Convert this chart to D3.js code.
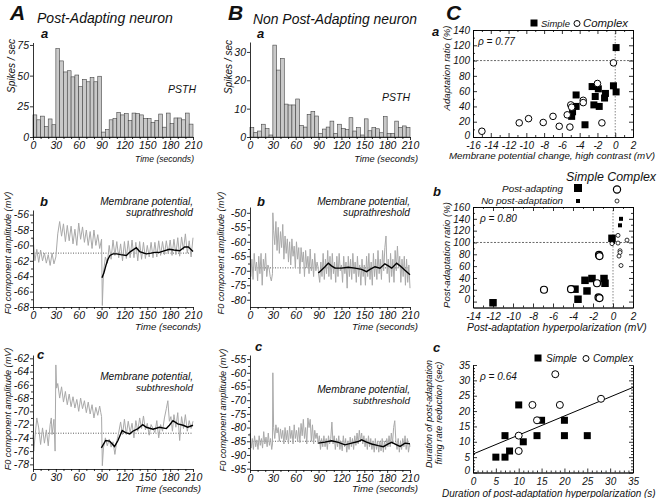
<!DOCTYPE html>
<html><head><meta charset="utf-8">
<script src="https://cdn.jsdelivr.net/npm/d3@7"></script>
<style>
body{margin:0;background:#fff}
svg{font-family:"Liberation Sans",Arial,Helvetica,sans-serif;font-style:italic}
</style></head><body>
<svg id="c" width="657" height="498"></svg>
<script>
// ---------------- DATA ----------------
const timeTicks = [0,30,60,90,120,150,180,210];
const timeMinor = [10,20,40,50,70,80,100,110,130,140,160,170,190,200];
const binStarts = d3.range(0,210,5); // 5-s PSTH bins

const psthA = [18,14,17,8.4,14.7,10,72,62,53,54,49,50.5,41,47,45,48.5,45,49.5,4,6,14,15,20,18,19,13.5,19.5,19,18,15,15,12,13.5,18.7,8,19.5,11,15.5,15.5,14,19.5,10.5];
const psthB = [3.4,1.6,2.1,4.5,3,0.7,32.4,23.6,27.7,11.6,11.3,11.3,13.4,4.1,3.5,8,9,7.4,1.3,2.8,3.5,5.6,1.3,4.5,3,2.6,6.8,2.1,3.3,0.7,6.4,2.2,3.3,2.9,1.5,7.2,1.3,1.3,5.6,3.4,3.9,3.4];
const psthTicksA = [0,25,50,75];
const psthTicksB = [0,10,20,30];

// A-b : suprathreshold membrane potential, post-adapting neuron
const abGrey = [[0,-59],[2.5,-62],[5,-60.5],[7.5,-62.2],[10,-60.6],[12.5,-62],[15,-61],[17.5,-62.3],[20,-61.2],[22.5,-62.6],[25,-61],[27.5,-62.4],[30,-61.5],
[32.5,-58.5],[35,-56.9],[37.5,-58.8],[40,-57.2],[42.5,-59.5],[45,-57.4],[47.5,-59.4],[50,-57.5],[52.5,-59.8],[55,-57.9],[57.5,-60],[60,-57.1],[62.5,-59.2],[65,-57.6],[67.5,-59.6],[70,-58],[72.5,-60],[75,-58.2],[77.5,-60.4],[80,-58],[82.5,-60],[85,-58.6],[87.5,-60.4],[90,-59.2],
[91,-67.8],[92.5,-63.5],[95,-61.5],[97.5,-62.3],[100,-60],[102.5,-61.8],[105,-59.3],[107.5,-61.3],[110,-59.5],[112.5,-61.6],[115,-59.8],[117.5,-62],[120,-59.5],[122.5,-61.7],[125,-59.4],[127.5,-61.6],[130,-59.3],[132.5,-61.6],[135,-59.6],[137.5,-62],[140,-59.5],[142.5,-61.8],[145,-59.6],[147.5,-61.7],[150,-60],[152.5,-61.5],[155,-59.6],[157.5,-61.6],[160,-59.6],[162.5,-61.5],[165,-59.4],[167.5,-61.3],[170,-59.5],[172.5,-61.2],[175,-59.4],[177.5,-61.1],[180,-59.3],[182.5,-61.3],[185,-59.2],[187.5,-61.2],[190,-59],[192.5,-61.4],[195,-58.9],[197.5,-60.6],[200,-58.5],[202.5,-61],[205,-59.4],[207.5,-61.5],[210,-59]];
const abBlack = [[90.5,-64.2],[93,-63.6],[96,-62.5],[98.4,-61.8],[101,-61.3],[105,-61.1],[110,-61.1],[115,-61.2],[122.5,-61.3],[128,-60.8],[135.6,-60.3],[140,-60.8],[148.7,-61.1],[155,-61],[160,-60.9],[166,-60.9],[172,-60.7],[179,-60.5],[185,-60.6],[192.5,-60.7],[199,-60.2],[204,-60.2],[208,-60.6],[210,-60.8]];
const abBase = -61;
const abTicks = [-56,-58,-60,-62,-64,-66,-68];

// A-c : subthreshold, post-adapting neuron
const acGrey = [[0,-73.5],[1,-76],[2.5,-74],[5,-71],[7.5,-72.5],[10,-75],[12.5,-72.5],[15,-74.8],[17.5,-72.8],[20,-75.2],[22.5,-72],[24,-71],[25,-73.5],[27.5,-71.2],[29,-76],
[30,-63],[31,-66.5],[32.5,-65.8],[35,-68],[37.5,-66.3],[40,-68.6],[42.5,-67],[45,-69],[47.5,-67.4],[50,-69.3],[52.5,-67.8],[55,-69.5],[57.5,-68.2],[60,-70],[62.5,-68],[65,-69.6],[67.5,-68.4],[70,-70.2],[72.5,-68.6],[75,-70.4],[77.5,-69],[80,-71],[82.5,-69.4],[85,-70.6],[87.5,-69.2],[89,-70.2],[90,-70.8],
[91,-78.2],[92.5,-75.5],[95,-74],[97.5,-75.2],[100,-74.2],[102.5,-75.4],[105,-74.6],[107.5,-76.5],[110,-74.5],[112.5,-73.2],[115,-71.6],[117.5,-73.5],[120,-71.2],[122.5,-73.5],[125,-71.5],[127.5,-73.2],[130,-71.8],[132.5,-74],[135,-71.4],[137.5,-73],[140,-71],[142.5,-72.6],[145,-70.7],[147.5,-72.8],[150,-71.8],[152.5,-73.6],[155,-72],[157.5,-72.6],[160,-73.2],[162.5,-71.4],[165,-74],[167.5,-72],[170,-73],[172.5,-71],[175,-69.6],[177,-68.4],[179,-71.5],[181,-70.8],[183,-73],[185,-70.5],[187.5,-72.4],[190,-70.2],[192.5,-74.4],[195,-70.8],[197.5,-72.6],[200,-70.5],[202.5,-73],[205,-71.4],[207.5,-72.6],[210,-71.5]];
const acBlack = [[89.7,-75.5],[95.4,-74.4],[100.6,-74.5],[107,-75.3],[111.5,-74.4],[117,-72.9],[121.6,-73.2],[127,-73.4],[131,-73],[137.8,-72.6],[144,-72],[148.7,-72.4],[157.5,-72.7],[166,-72.4],[175,-72.6],[179,-72.1],[183.7,-71.4],[190,-71.9],[197,-72.1],[203,-72.4],[210,-72.1]];
const acBase = -73.3;
const acTicks = [-62,-64,-66,-68,-70,-72,-74,-76,-78];

// B-b : suprathreshold, non post-adapting neuron
const bbGrey = [[0,-63],[1,-72],[2.5,-66],[4,-73],[5.5,-64],[7,-70],[8.5,-67],[10,-73.5],[11.5,-65],[13,-71],[14.5,-64],[16,-75],[17.5,-66],[19,-70],[20.5,-64],[22,-72],[23.5,-68],[25,-69],[26.5,-72],[28,-73.5],[29.5,-71],
[30,-50],[31,-56],[32.5,-61],[34,-53],[35.5,-63],[37,-55],[38.5,-64],[40,-56.5],[41.5,-62],[43,-54],[44.5,-66],[46,-58],[47.5,-64],[49,-59],[50.5,-67],[52,-60],[53.5,-68],[55,-59],[56.5,-65],[58,-61.5],[59.5,-69],[61,-60],[62.5,-66],[64,-62],[65.5,-71],[67,-62],[68.5,-67],[70,-63.5],[71.5,-72],[73,-63],[74.5,-69],[76,-65],[77.5,-71],[79,-62.5],[80.5,-70],[82,-66],[83.5,-72],[85,-64],[86.5,-70],[88,-67],[89.5,-69],
[90,-71],[91.5,-74],[93,-67],[94.5,-72],[96,-64],[97.5,-73],[99,-66],[100.5,-71],[102,-63],[103.5,-72],[105,-65],[106.5,-73],[108,-64],[109.5,-71],[111,-67],[112.5,-74],[114,-65],[115.5,-72],[117,-64],[118.5,-70],[120,-68],[121.5,-74],[123,-65],[124.5,-71],[126,-67],[127.5,-76],[129,-65],[130.5,-72],[132,-66],[133.5,-73],[135,-64],[136.5,-71],[138,-67],[139.5,-74],[141,-65],[142.5,-72],[144,-68],[145.5,-75],[147,-66],[148.5,-72],[150,-68],[151.5,-75],[153,-65],[154.5,-72],[156,-64],[157.5,-73],[159,-67],[160.5,-75],[162,-64],[163.5,-72],[165,-66],[166.5,-73],[168,-63],[169.5,-71],[171,-66],[172.5,-73],[174,-63],[175.5,-70],[177,-62],[178.5,-58],[180,-71],[181.5,-66],[183,-74],[184.5,-64],[186,-72],[187.5,-66],[189,-74],[190.5,-63],[192,-70],[193.5,-61.5],[195,-69],[196.5,-65],[198,-74],[199.5,-66],[201,-72],[202.5,-65],[204,-75],[205.5,-66],[207,-74],[208.5,-68],[210,-76]];
const bbBlack = [[89.7,-70.8],[94,-69.7],[98.4,-68.6],[102.8,-67.4],[107,-68.3],[111.5,-69.1],[120,-69.1],[129,-68.8],[137.8,-69.1],[146.5,-69.5],[153,-70.3],[157.5,-69.5],[164,-68.6],[170.6,-69.1],[177,-67.6],[181.5,-68.3],[186,-69.1],[192.5,-67.4],[197,-68.3],[203,-69.7],[210,-71.4]];
const bbBase = -69;
const bbTicks = [-50,-55,-60,-65,-70,-75,-80];

// B-c : subthreshold, non post-adapting neuron
const bcGrey = [[0,-82],[1.5,-87.5],[3,-84],[4.5,-88],[6,-83],[7.5,-87],[9,-84.5],[10.5,-88],[12,-83],[13.5,-86.5],[15,-84],[16.5,-87.5],[18,-81.5],[19.5,-86],[21,-83.5],[22.5,-87],[24,-82],[25.5,-86.5],[27,-84],[28.5,-88],[29.5,-86],
[30,-60],[31,-80],[32.5,-84],[34,-79],[35.5,-82],[37,-80],[38.5,-85],[40,-80.5],[41.5,-84],[43,-81],[44.5,-86],[46,-80],[47.5,-84.5],[49,-81],[50.5,-86],[52,-79.5],[53.5,-84],[55,-81],[56.5,-86],[58,-79],[59.5,-84],[61,-81],[62.5,-85],[64,-80],[65.5,-85.5],[67,-78.5],[68.5,-83],[70,-77],[71.5,-84],[73,-80],[74.5,-86],[76,-76.5],[77.5,-80],[79,-77],[80.5,-85],[82,-79],[83.5,-86],[85,-81],[86.5,-84],[88,-82],[89.5,-86],
[91,-83],[92.5,-88],[94,-84],[95.5,-87],[97,-83],[98.5,-87],[100,-84],[101.5,-88],[103,-83],[104.5,-86],[106,-84],[107.5,-78],[109,-86],[110.5,-83],[112,-88],[113.5,-84],[115,-87],[116.5,-83],[118,-88],[119.5,-85],[121,-88.5],[122.5,-83],[124,-87],[125.5,-84],[127,-89],[128.5,-85],[130,-88],[131.5,-83.5],[133,-87],[134.5,-84],[136,-88],[137.5,-83],[139,-86.5],[140.5,-82],[142,-86],[143.5,-81],[145,-85],[146.5,-82],[148,-86],[149.5,-83],[151,-87],[152.5,-84],[154,-88],[155.5,-83],[157,-87],[158.5,-84],[160,-88],[161.5,-85],[163,-89],[164.5,-84],[166,-88],[167.5,-85],[169,-89],[170.5,-85],[172,-88.5],[173.5,-84],[175,-89],[176.5,-85],[178,-88],[179.5,-84],[181,-87],[182.5,-83],[184,-87],[185.5,-82],[187,-86],[188.5,-80],[190,-77.5],[191.5,-85],[193,-88],[194.5,-84],[196,-89],[197.5,-85],[199,-88],[200.5,-84],[202,-87],[203.5,-83],[205,-88],[206.5,-84],[208,-89],[209.5,-86],[210,-87]];
const bcBlack = [[89.7,-85.7],[98.4,-85.3],[107,-84.8],[116,-85.4],[124.7,-86.3],[133.4,-85.7],[142,-85.1],[146.5,-84.5],[153,-85.3],[159.7,-86],[168.4,-86.6],[175,-87],[181.5,-86],[186,-85.4],[192.5,-86.3],[197,-86.9],[203.4,-85.7],[210,-85.9]];
const bcBase = -85;
const bcTicks = [-55,-60,-65,-70,-75,-80,-85,-90,-95];

// C-a : adaptation ratio vs membrane potential change
const caSimple = [[0.1,117],[-0.2,67],[0.1,59],[-2.6,66],[-1.9,63],[-2.25,53],[-1.1,57],[-1.2,51],[-2.4,42],[-1.8,40],[-4.4,55],[-4.4,40],[-4.8,33],[-4.9,27],[-3.4,16]];
const caComplex = [[-0.2,97],[-2.0,70],[-3.6,48],[-3.6,45],[-5.0,42],[-4.9,39],[-5.4,29],[-7.0,27],[-9.75,24],[-10.8,18.5],[-8.1,19],[-6.3,14],[-5.1,13],[-1.5,18.5],[-15,7.5]];
const caRho = "ρ = 0.77";
const caXTicks = [-16,-14,-12,-10,-8,-6,-4,-2,0,2];
const caYTicks = [0,20,40,60,80,100,120,140];

// C-b : post-adaptation ratio vs hyperpolarization
const cbPostSimple = [[-12.0,-2],[-3.8,21],[-3.5,4],[-2.8,36],[-2.6,18],[-2.1,39],[-0.9,39],[-0.8,31],[-0.1,107]];
const cbPostComplex = [[-6.9,20],[-4.2,21],[-1.6,31],[-1.4,79],[-1.35,77],[-1.45,7],[-1.35,6]];
const cbNoSimple = [[0.8,140],[0.7,129],[0.0,101]];
const cbNoComplex = [[0.5,112],[1.4,104],[0.5,99],[-0.1,98],[0.7,86],[0.7,83],[0.6,77],[0.8,61]];
const cbRho = "ρ = 0.80";
const cbXTicks = [-14,-12,-10,-8,-6,-4,-2,0,2];
const cbYTicks = [0,20,40,60,80,100,120,140,160];

// C-c : durations
const ccSimple = [[5,5],[7,5],[8,7],[7,12],[11,10],[10,22],[14,12],[15,17],[20,17],[20,12],[25,12]];
const ccComplex = [[10,7],[10,12],[14,17],[13,22],[18,32],[19,22],[28,24]];
const ccFitX = [0,35];
const ccFitY = [6,27.7];
const ccRho = "ρ = 0.64";
const ccTicks = [0,5,10,15,20,25,30,35];

// ---------------- DRAWING ----------------
const svg = d3.select("#c");

function txt(x, y, s, o = {}) {
  const size = o.size || 11;
  const t = svg.append("text").attr("x", x).attr("y", y).text(s)
    .attr("font-size", size).attr("font-style", "italic")
    .attr("font-weight", o.bold ? "bold" : "normal")
    .attr("text-anchor", o.anchor || "start").attr("fill", "#111");
  if (o.rotate) t.attr("transform", `rotate(-90,${x},${y})`);
  if (o.width) {
    const w = t.node().getComputedTextLength();
    if (w > 0) t.attr("font-size", size * o.width / w);
  }
  return t;
}

function styleAxis(g, fs) {
  g.selectAll("path,line").attr("stroke", "#000").attr("stroke-width", 0.8);
  g.selectAll("text").attr("font-size", fs || 10.5).attr("fill", "#111").attr("font-family", null);
}
const fmt = d => String(d);

function timeAxes(x, y, yTicks, yMinor) {
  const bottom = y.range()[0], left = x.range()[0];
  const gx = svg.append("g").attr("transform", `translate(0,${bottom})`)
    .call(d3.axisBottom(x).tickValues(timeTicks).tickFormat(fmt).tickSizeInner(3).tickSizeOuter(0).tickPadding(2));
  styleAxis(gx);
  const gxm = svg.append("g").attr("transform", `translate(0,${bottom})`)
    .call(d3.axisBottom(x).tickValues(timeMinor).tickFormat("").tickSizeInner(2).tickSizeOuter(0));
  styleAxis(gxm); gxm.select("path").remove();
  const gy = svg.append("g").attr("transform", `translate(${left},0)`)
    .call(d3.axisLeft(y).tickValues(yTicks).tickFormat(fmt).tickSizeInner(3).tickSizeOuter(0).tickPadding(1));
  styleAxis(gy);
  if (yMinor) {
    const gym = svg.append("g").attr("transform", `translate(${left},0)`)
      .call(d3.axisLeft(y).tickValues(yMinor).tickFormat("").tickSizeInner(2).tickSizeOuter(0));
    styleAxis(gym); gym.select("path").remove();
  }
}

function psthPanel(data, xr, yr, ymax, ticks) {
  const x = d3.scaleLinear([0, 210], xr);
  const y = d3.scaleLinear([0, ymax], yr);
  svg.append("g").selectAll("rect").data(data).join("rect")
    .attr("x", (d, i) => x(binStarts[i]))
    .attr("width", x(5) - x(0))
    .attr("y", d => y(d))
    .attr("height", d => y(0) - y(d))
    .attr("fill", "#c9c9c9").attr("stroke", "#444").attr("stroke-width", 0.6);
  timeAxes(x, y, ticks, null);
}

function tracePanel(grey, black, base, xr, yr, dom, ticks) {
  const x = d3.scaleLinear([0, 210], xr);
  const y = d3.scaleLinear(dom, yr);
  const line = d3.line().x(d => x(d[0])).y(d => y(d[1]));
  svg.append("line").attr("x1", xr[0]).attr("x2", xr[1]).attr("y1", y(base)).attr("y2", y(base))
    .attr("stroke", "#333").attr("stroke-width", 0.8).attr("stroke-dasharray", "1,1.5");
  svg.append("path").attr("d", line(grey)).attr("fill", "none").attr("stroke", "#a9a9a9").attr("stroke-width", 1);
  svg.append("path").attr("d", line(black)).attr("fill", "none").attr("stroke", "#000").attr("stroke-width", 1.4);
  const minor = [];
  for (let i = 0; i < ticks.length - 1; i++) minor.push((ticks[i] + ticks[i + 1]) / 2);
  timeAxes(x, y, ticks, minor);
}

function boxPanel(x, y, xMajor, xMinor, yMajor, yMinor, opts = {}) {
  const [l, r] = x.range(), [b, t] = y.range();
  const add = (tr, ax) => { const g = svg.append("g").attr("transform", tr).call(ax); styleAxis(g, 10); return g; };
  add(`translate(0,${b})`, d3.axisBottom(x).tickValues(xMajor).tickFormat(fmt).tickSizeInner(-4).tickSizeOuter(0).tickPadding(5));
  add(`translate(0,${b})`, d3.axisBottom(x).tickValues(xMinor).tickFormat("").tickSizeInner(-2).tickSizeOuter(0));
  const gl = add(`translate(${l},0)`, d3.axisLeft(y).tickValues(yMajor).tickFormat(fmt).tickSizeInner(-4).tickSizeOuter(0).tickPadding(3));
  // lift the lowest y label a little so it clears the first x label
  gl.selectAll(".tick text").filter(d => d === yMajor[0]).attr("dy", "0.1em");
  add(`translate(${l},0)`, d3.axisLeft(y).tickValues(yMinor).tickFormat("").tickSizeInner(-2).tickSizeOuter(0));
  add(`translate(${r},0)`, d3.axisRight(y).tickValues(yMajor).tickFormat("").tickSizeInner(-4).tickSizeOuter(0));
  add(`translate(${r},0)`, d3.axisRight(y).tickValues(yMinor).tickFormat("").tickSizeInner(-2).tickSizeOuter(0));
  if (!opts.noTop) {
    add(`translate(0,${t})`, d3.axisTop(x).tickValues(xMajor).tickFormat("").tickSizeInner(-4).tickSizeOuter(0));
    add(`translate(0,${t})`, d3.axisTop(x).tickValues(xMinor).tickFormat("").tickSizeInner(-2).tickSizeOuter(0));
  }
}

function squares(x, y, data, s) {
  svg.append("g").selectAll("rect").data(data).join("rect")
    .attr("x", d => x(d[0]) - s / 2).attr("y", d => y(d[1]) - s / 2)
    .attr("width", s).attr("height", s).attr("fill", "#000");
}
function circles(x, y, data, r, sw) {
  svg.append("g").selectAll("circle").data(data).join("circle")
    .attr("cx", d => x(d[0])).attr("cy", d => y(d[1])).attr("r", r)
    .attr("fill", "#fff").attr("stroke", "#000").attr("stroke-width", sw);
}
function refLines(x, y, xv, yv) {
  const [l, r] = x.range(), [b, t] = y.range();
  svg.append("line").attr("x1", l).attr("x2", r).attr("y1", y(yv)).attr("y2", y(yv))
    .attr("stroke", "#444").attr("stroke-width", 0.8).attr("stroke-dasharray", "2,1.5");
  svg.append("line").attr("x1", x(xv)).attr("x2", x(xv)).attr("y1", t).attr("y2", b)
    .attr("stroke", "#555").attr("stroke-width", 0.7).attr("stroke-dasharray", "1.5,1.5");
}

// ---- Column A ----
txt(10, 20, "A", { size: 21, bold: true });
txt(37, 23, "Post-Adapting neuron", { size: 15, width: 136 });
txt(41, 38, "a", { size: 13, bold: true });
psthPanel(psthA, [33, 193], [137, 42.5], 77, psthTicksA);
txt(168, 93, "PSTH", { size: 11, width: 28 });
txt(15, 66, "Spikes / sec", { size: 11, rotate: true, anchor: "middle", width: 54 });
txt(194, 162, "Time (seconds)", { size: 12, anchor: "end", width: 59 });

txt(40, 206, "b", { size: 13, bold: true });
tracePanel(abGrey, abBlack, abBase, [33, 193], [307, 210], [-68, -55.4], abTicks);
txt(193, 205, "Membrane potential,", { size: 12, anchor: "end", width: 93 });
txt(193, 216, "suprathreshold", { size: 12, anchor: "end", width: 67 });
txt(11, 253, "F0 component amplitude (mV)", { size: 11, rotate: true, anchor: "middle", width: 123 });
txt(201, 330, "Time (seconds)", { size: 12, anchor: "end", width: 66 });

txt(37, 359, "c", { size: 13, bold: true });
tracePanel(acGrey, acBlack, acBase, [33, 193], [469, 355], [-78.7, -61.5], acTicks);
txt(193, 380, "Membrane potential,", { size: 12, anchor: "end", width: 93 });
txt(193, 391, "subthreshold", { size: 12, anchor: "end", width: 57 });
txt(11, 409, "F0 component amplitude (mV)", { size: 11, rotate: true, anchor: "middle", width: 123 });
txt(201, 492, "Time (seconds)", { size: 12, anchor: "end", width: 66 });

// ---- Column B ----
txt(228, 20, "B", { size: 21, bold: true });
txt(253, 24, "Non Post-Adapting neuron", { size: 15, width: 164 });
txt(257, 38, "a", { size: 13, bold: true });
psthPanel(psthB, [250, 410], [137, 42], 33.5, psthTicksB);
txt(382, 101, "PSTH", { size: 11, width: 28 });
txt(232, 67, "Spikes / sec", { size: 11, rotate: true, anchor: "middle", width: 54 });
txt(418, 162, "Time (seconds)", { size: 12, anchor: "end", width: 64 });

txt(257, 206, "b", { size: 13, bold: true });
tracePanel(bbGrey, bbBlack, bbBase, [250, 410], [307, 207], [-82.5, -48], bbTicks);
txt(410, 205, "Membrane potential,", { size: 12, anchor: "end", width: 93 });
txt(410, 216, "suprathreshold", { size: 12, anchor: "end", width: 67 });
txt(224, 253, "F0 component amplitude (mV)", { size: 11, rotate: true, anchor: "middle", width: 123 });
txt(418, 330, "Time (seconds)", { size: 12, anchor: "end", width: 66 });

txt(255, 351, "c", { size: 13, bold: true });
tracePanel(bcGrey, bcBlack, bcBase, [250, 410], [470, 355], [-95.5, -53.5], bcTicks);
txt(410, 393, "Membrane potential,", { size: 12, anchor: "end", width: 93 });
txt(410, 404, "subthreshold", { size: 12, anchor: "end", width: 57 });
txt(226, 410, "F0 component amplitude (mV)", { size: 11, rotate: true, anchor: "middle", width: 123 });
txt(418, 492, "Time (seconds)", { size: 12, anchor: "end", width: 66 });

// ---- Column C ----
txt(446, 20, "C", { size: 21, bold: true });

// C-a
{
  const x = d3.scaleLinear([-16, 2], [473, 633]);
  const y = d3.scaleLinear([0, 140], [137, 30]);
  refLines(x, y, 0, 100);
  boxPanel(x, y, caXTicks, d3.range(-15, 2, 2), caYTicks, d3.range(10, 140, 20));
  squares(x, y, caSimple, 7);
  circles(x, y, caComplex, 3.3, 1);
  txt(478, 45, caRho, { size: 11, width: 37 });
  txt(432, 36, "a", { size: 13, bold: true });
  svg.append("rect").attr("x", 530.5).attr("y", 19.5).attr("width", 7).attr("height", 7).attr("fill", "#000");
  txt(541, 27, "Simple", { size: 11.5, width: 29 });
  svg.append("circle").attr("cx", 577).attr("cy", 23.5).attr("r", 3).attr("fill", "#fff").attr("stroke", "#000");
  txt(583, 27, "Complex", { size: 11.5, width: 45 });
  txt(450, 68, "Adaptation ratio (%)", { size: 11, rotate: true, anchor: "middle", width: 85 });
  txt(449, 159, "Membrane potential change, high contrast (mV)", { size: 10.5, width: 206 });
}

// C-b
{
  const x = d3.scaleLinear([-14, 2], [473, 633]);
  const y = d3.scaleLinear([-10, 160], [307.5, 207]);
  refLines(x, y, 0, 100);
  boxPanel(x, y, cbXTicks, d3.range(-13, 2, 2), cbYTicks, d3.range(10, 160, 20));
  squares(x, y, cbPostSimple, 7.5);
  squares(x, y, cbNoSimple, 4);
  circles(x, y, cbPostComplex, 3.5, 1.2);
  circles(x, y, cbNoComplex, 2, 0.8);
  txt(480, 222, cbRho, { size: 11, width: 37 });
  txt(433, 196, "b", { size: 13, bold: true });
  txt(566, 181, "Simple Complex", { size: 12, width: 90 });
  txt(563, 192, "Post-adapting", { size: 12, anchor: "end", width: 61 });
  txt(563, 204, "No post-adaptation", { size: 12, anchor: "end", width: 82 });
  svg.append("rect").attr("x", 574).attr("y", 184).attr("width", 8).attr("height", 8).attr("fill", "#000");
  svg.append("circle").attr("cx", 617).attr("cy", 189.5).attr("r", 3.6).attr("fill", "#fff").attr("stroke", "#000").attr("stroke-width", 1.2);
  svg.append("rect").attr("x", 576).attr("y", 199).attr("width", 4).attr("height", 4).attr("fill", "#000");
  svg.append("circle").attr("cx", 617).attr("cy", 201).attr("r", 2).attr("fill", "#fff").attr("stroke", "#000").attr("stroke-width", 0.8);
  txt(450, 255, "Post-adaptation ratio (%)", { size: 11, rotate: true, anchor: "middle", width: 106 });
  txt(467, 331, "Post-adaptation hyperpolarization (mV)", { size: 10.5, width: 180 });
}

// C-c
{
  const x = d3.scaleLinear([0, 35], [473, 633]);
  const y = d3.scaleLinear([0, 35], [472.5, 365]);
  boxPanel(x, y, ccTicks, d3.range(1, 36, 1).filter(v => v % 5), ccTicks, d3.range(1, 36, 1).filter(v => v % 5), { noTop: true });
  svg.append("line").attr("x1", x(ccFitX[0])).attr("y1", y(ccFitY[0])).attr("x2", x(ccFitX[1])).attr("y2", y(ccFitY[1]))
    .attr("stroke", "#000").attr("stroke-width", 1);
  squares(x, y, ccSimple, 7);
  circles(x, y, ccComplex, 3.5, 1);
  txt(480, 380, ccRho, { size: 11, width: 37 });
  txt(433, 352, "c", { size: 13, bold: true });
  svg.append("rect").attr("x", 534.5).attr("y", 354.5).attr("width", 7).attr("height", 7).attr("fill", "#000");
  txt(546, 362, "Simple", { size: 11.5, width: 31 });
  svg.append("circle").attr("cx", 586).attr("cy", 358.5).attr("r", 3).attr("fill", "#fff").attr("stroke", "#000");
  txt(593, 362, "Complex", { size: 11.5, width: 40 });
  txt(432, 414, "Duration of post-adaptation", { size: 11, rotate: true, anchor: "middle", width: 108 });
  txt(442, 413, "firing rate reduction (sec)", { size: 11, rotate: true, anchor: "middle", width: 103 });
  txt(442, 497, "Duration of post-adaptation hyperpolarization (s)", { size: 10.5, width: 214 });
}
</script>
</body></html>
